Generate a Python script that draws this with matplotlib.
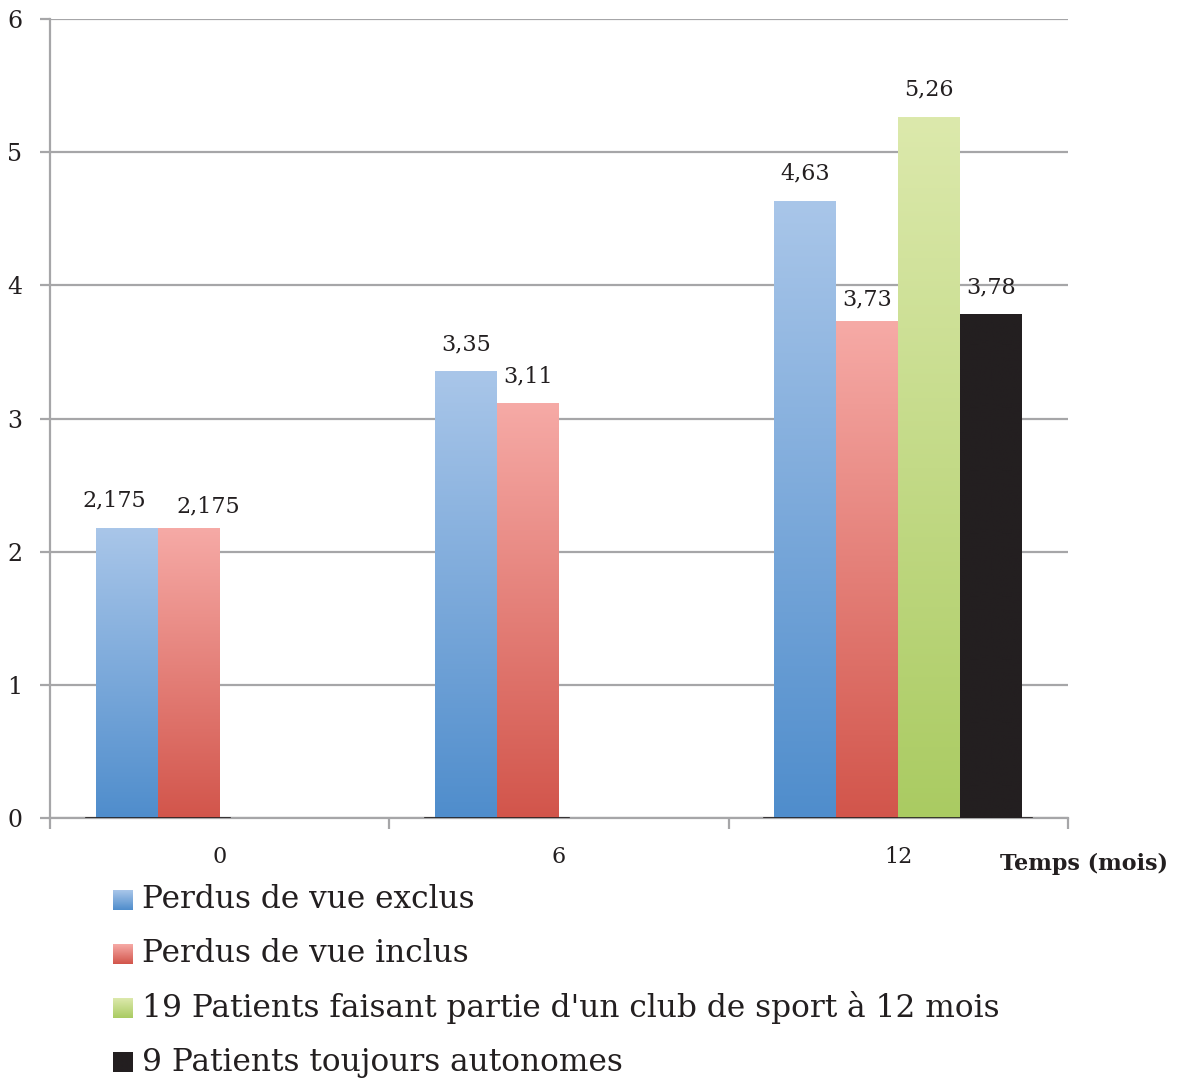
import numpy as np
import matplotlib.pyplot as plt
from matplotlib.colors import LinearSegmentedColormap

# Données
categories = ["0", "6", "12"]
series = [
    "Perdus de vue exclus",
    "Perdus de vue inclus",
    "19 Patients faisant partie d'un club de sport à 12 mois",
    "9 Patients toujours autonomes",
]
exclus = [2.175, 3.35, 4.63]
inclus = [2.175, 3.11, 3.73]
club = [None, None, 5.26]
autonomes = [None, None, 3.78]
valeurs = [exclus, inclus, club, autonomes]
etiquettes = [["2,175", "3,35", "4,63"],
              ["2,175", "3,11", "3,73"],
              [None, None, "5,26"],
              [None, None, "3,78"]]

# couleurs (haut, bas) des dégradés
couleurs = [("#a9c6e9", "#4f8dcc"),
            ("#f6aaa6", "#d2554b"),
            ("#dce9ac", "#aacb62"),
            ("#231f20", "#231f20")]
decalages = [[-9, 0, 0], [14, 0, 0], [0, 0, 0], [0, 0, 0]]
hausses = [[12, 12, 12], [8, 12, 8], [12, 12, 12], [12, 12, 12]]

plt.rcParams['font.family'] = ['DejaVu Serif']

fig = plt.figure(figsize=(11.82, 10.81), dpi=100)
W, H = 1182, 1081
ax = fig.add_axes([50 / W, 1 - 818 / H, (1068 - 50) / W, (818 - 19) / H])

largeur = 62 / 339.5
ax.set_xlim(0, 3)
ax.set_ylim(0, 6)

for i, (vals, (haut, bas)) in enumerate(zip(valeurs, couleurs)):
    cmap = LinearSegmentedColormap.from_list("g%d" % i, [bas, haut])
    for j, v in enumerate(vals):
        if v is None:
            continue
        x0 = j + 0.5 - 2 * largeur + i * largeur
        grad = np.linspace(0, 1, 256).reshape(-1, 1)
        ax.imshow(grad, cmap=cmap, origin="lower", aspect="auto",
                  extent=(x0, x0 + largeur, 0, v), zorder=3)
        ax.annotate(etiquettes[i][j], (x0 + largeur / 2, v),
                    xytext=(decalages[i][j], hausses[i][j]),
                    textcoords="offset points",
                    ha="center", va="bottom", fontsize=16, color="#231f20")
    ax.set_xlim(0, 3)
    ax.set_ylim(0, 6)

# ombre sous les barres
for j in range(3):
    n = 2 if j < 2 else 4
    x0 = j + 0.5 - 2 * largeur
    ax.plot([x0 - 0.03, x0 + n * largeur + 0.03], [0, 0], color="#231f20",
            lw=1.2, zorder=4)

ax.set_yticks(range(7))
ax.set_yticklabels([str(k) for k in range(7)], fontsize=17, color="#231f20")
ax.yaxis.grid(True, color="#a6a6a8", lw=1.6)
ax.set_axisbelow(True)
ax.tick_params(axis="y", length=7, width=1.6, color="#a6a6a8", pad=13)

ax.set_xticks([0, 1, 2, 3])
ax.set_xticklabels([])
ax.set_xticks([0.5, 1.5, 2.5], minor=True)
ax.set_xticklabels(categories, minor=True, fontsize=16, color="#231f20")
ax.tick_params(axis="x", which="major", length=8, width=1.6, color="#a6a6a8")
ax.tick_params(axis="x", which="minor", length=0, pad=20)

for s in ["top", "right"]:
    ax.spines[s].set_visible(False)
for s in ["left", "bottom"]:
    ax.spines[s].set_color("#a6a6a8")
    ax.spines[s].set_linewidth(1.6)

fig.text(1168 / W, 1 - 864 / H, "Temps (mois)", ha="right", va="center",
         fontsize=16, fontweight="bold", color="#231f20")

# légende dessinée à la main
for i, nom in enumerate(series):
    yc = 900 + i * 54
    haut, bas = couleurs[i]
    cmap = LinearSegmentedColormap.from_list("l%d" % i, [bas, haut])
    carre = fig.add_axes([113 / W, 1 - (yc + 10) / H, 20 / W, 20 / H])
    carre.imshow(np.linspace(0, 1, 64).reshape(-1, 1), cmap=cmap,
                 origin="lower", aspect="auto")
    carre.axis("off")
    fig.text(142 / W, 1 - yc / H, nom, ha="left", va="center",
             fontsize=22.5, color="#231f20")

fig.savefig("out.png", dpi=100)
